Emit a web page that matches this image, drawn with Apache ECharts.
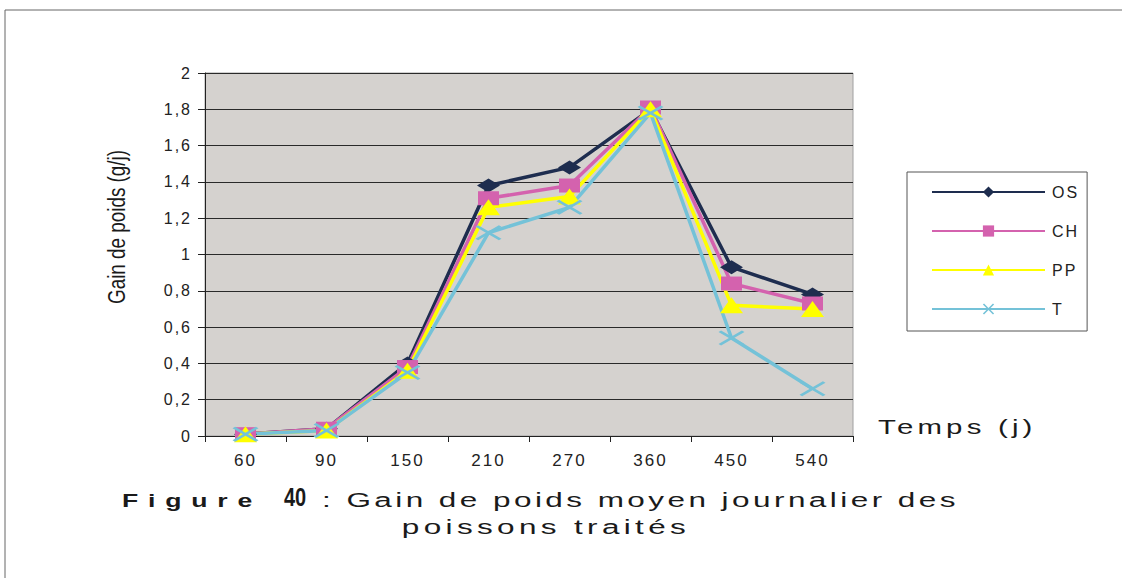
<!DOCTYPE html>
<html>
<head>
<meta charset="utf-8">
<script src="https://cdn.jsdelivr.net/npm/echarts@6/dist/echarts.min.js"></script>
<style>
html,body{margin:0;padding:0;background:#fff;}
#c{width:1122px;height:578px;}
#c svg text{letter-spacing:2px;}
</style>
</head>
<body>
<div id="c"></div>
<script>
var categories = ['60', '90', '150', '210', '270', '360', '450', '540'];
var seriesNames = ['OS', 'CH', 'PP', 'T'];
var valuesOS = [0.01, 0.04, 0.40, 1.38, 1.48, 1.80, 0.93, 0.78];
var valuesCH = [0.01, 0.04, 0.38, 1.31, 1.38, 1.81, 0.84, 0.73];
var valuesPP = [0.01, 0.03, 0.36, 1.26, 1.32, 1.80, 0.72, 0.70];
var valuesT  = [0.01, 0.03, 0.35, 1.12, 1.26, 1.78, 0.54, 0.26];
var yTicks = ['0', '0,2', '0,4', '0,6', '0,8', '1', '1,2', '1,4', '1,6', '1,8', '2'];

var colors = ['#1e2d4f', '#d462ae', '#ffff00', '#74c2d8'];
var crossPath = 'path://M0,1 L1,0 L5,4 L9,0 L10,1 L6,5 L10,9 L9,10 L5,6 L1,10 L0,9 L4,5 Z';
var symbols = ['diamond', 'rect', 'triangle', crossPath];
var symbolSizes = [[23, 14], [21, 14], [23, 16], [26, 15]];
var dataSets = [valuesOS, valuesCH, valuesPP, valuesT];

var chart = echarts.init(document.getElementById('c'), null, { renderer: 'svg' });
var fontFam = '"Liberation Sans", Arial, sans-serif';

var series = seriesNames.map(function (n, i) {
  return {
    name: n,
    type: 'line',
    data: dataSets[i],
    symbol: symbols[i],
    symbolSize: symbolSizes[i],
    showAllSymbol: true,
    lineStyle: { color: colors[i], width: 3.5 },
    itemStyle: { color: colors[i] },
    emphasis: { disabled: true },
    animation: false
  };
});

chart.setOption({
  animation: false,
  color: colors,
  grid: {
    left: 205, right: 269, top: 73, bottom: 142,
    show: true, backgroundColor: '#d5d2cf', borderColor: '#a0a0a0', borderWidth: 1
  },
  xAxis: {
    type: 'category',
    data: categories,
    boundaryGap: true,
    axisLine: { lineStyle: { color: '#222', width: 1 } },
    axisTick: { show: true, alignWithLabel: false, length: 6, lineStyle: { color: '#222' } },
    axisLabel: { color: '#222', fontSize: 17, fontFamily: fontFam, margin: 16 },
    splitLine: { show: false }
  },
  yAxis: {
    type: 'value',
    min: 0, max: 2, interval: 0.2,
    axisLine: { show: true, lineStyle: { color: '#222', width: 1 } },
    axisTick: { show: true, length: 7, lineStyle: { color: '#222' } },
    axisLabel: {
      color: '#222', fontSize: 16, fontFamily: fontFam, margin: 13,
      formatter: function (v) { return yTicks[Math.round(v / 0.2)]; }
    },
    splitLine: { show: true, lineStyle: { color: '#2a2a2a', width: 1 } }
  },
  legend: {
    orient: 'vertical',
    left: 907, top: 172,
    padding: [12, 12, 14, 24],
    itemWidth: 113, itemHeight: 14, itemGap: 23,
    borderColor: '#555', borderWidth: 1,
    backgroundColor: '#fff',
    textStyle: { fontSize: 16, fontFamily: fontFam, color: '#222', padding: [0, 0, 0, 2] },
    data: seriesNames
  },
  graphic: [
    { type: 'rect', shape: { x: 5, y: 10, width: 1130, height: 600 },
      style: { fill: null, stroke: '#666', lineWidth: 1 }, silent: true },
    { type: 'text', x: 117, y: 227, rotation: Math.PI / 2, scaleX: 0.82,
      style: { text: 'Gain de poids (g/j)', fontSize: 23, fontFamily: '"Liberation Sans Narrow", "Liberation Sans", sans-serif',
        fill: '#1a1a1a', align: 'center', verticalAlign: 'middle' } },
    { type: 'text', x: 878, y: 427, scaleX: 1.4,
      style: { text: 'Temps (j)', fontSize: 21, fontFamily: fontFam, fill: '#1a1a1a', align: 'left', verticalAlign: 'middle' } },
    { type: 'text', x: 122, y: 500, scaleX: 1.4,
      style: { text: 'Figure', fontSize: 19, fontWeight: 'bold', fontFamily: fontFam, fill: '#1a1a1a', align: 'left', verticalAlign: 'middle' } },
    { type: 'text', x: 284, y: 498, scaleX: 0.8,
      style: { text: '40', fontSize: 25, fontWeight: 'bold', fontFamily: fontFam, fill: '#1a1a1a', align: 'left', verticalAlign: 'middle' } },
    { type: 'text', x: 322, y: 500, scaleX: 1.5,
      style: { text: ': Gain de poids moyen journalier des', fontSize: 21, fontFamily: fontFam, fill: '#1a1a1a', align: 'left', verticalAlign: 'middle' } },
    { type: 'text', x: 546, y: 527, scaleX: 1.5,
      style: { text: 'poissons traités', fontSize: 21, fontFamily: fontFam, fill: '#1a1a1a', align: 'center', verticalAlign: 'middle' } }
  ],
  series: series
});

try { chart.getZr().refreshImmediately(); } catch (e) {}
var spacing = {
  'Figure': '7px',
  '40': '0px',
  ': Gain de poids moyen journalier des': '2.3px',
  'poissons traités': '2.9px',
  'Temps (j)': '3px',
  'Gain de poids (g/j)': '0px'
};
function applySpacing() {
  var texts = document.querySelectorAll('#c svg text');
  for (var i = 0; i < texts.length; i++) {
    var s = texts[i].textContent;
    if (spacing.hasOwnProperty(s)) {
      if (s === '40' && texts[i].getAttribute('style') && texts[i].getAttribute('style').indexOf('bold') < 0) continue;
      texts[i].style.letterSpacing = spacing[s];
    }
  }
}
applySpacing();
requestAnimationFrame(applySpacing);
setTimeout(applySpacing, 50);
</script>
</body>
</html>
